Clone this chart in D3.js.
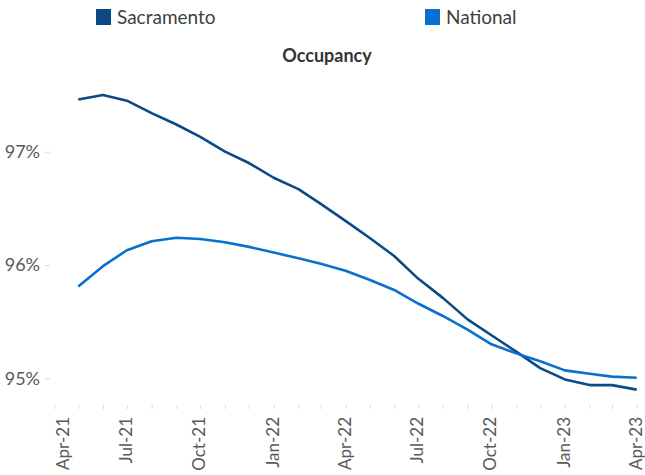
<!DOCTYPE html>
<html>
<head>
<meta charset="utf-8">
<script src="https://cdn.jsdelivr.net/npm/d3@7"></script>
<style>
  html, body { margin: 0; padding: 0; background: #fff; }
  svg { display: block; font-family: Lato, "Noto Sans", sans-serif; }
</style>
</head>
<body>
<svg id="chart"></svg>
<script>
// Monthly occupancy, May-21 .. Apr-23
const months = ['2021-05','2021-06','2021-07','2021-08','2021-09','2021-10','2021-11','2021-12',
  '2022-01','2022-02','2022-03','2022-04','2022-05','2022-06','2022-07','2022-08','2022-09','2022-10',
  '2022-11','2022-12','2023-01','2023-02','2023-03','2023-04'];
const sacramento = [97.46,97.50,97.45,97.34,97.24,97.13,97.00,96.90,96.77,96.67,96.54,96.39,
  96.24,96.08,95.88,95.71,95.52,95.38,95.235,95.09,94.99,94.94,94.94,94.90];
const national = [95.81,95.99,96.13,96.21,96.24,96.23,96.20,96.16,96.11,96.06,96.01,95.95,
  95.87,95.78,95.66,95.55,95.43,95.30,95.22,95.15,95.07,95.04,95.015,95.005];
const yTicks = [95, 96, 97];
const tickLabels = ['2021-04','2021-07','2021-10','2022-01','2022-04','2022-07','2022-10','2023-01','2023-04'];

const W = 645, H = 475;
const parse = d3.timeParse('%Y-%m');
const fmt = d3.timeFormat('%b-%y');

const svg = d3.select('#chart').attr('width', W).attr('height', H);

const x = d3.scaleTime()
  .domain([parse('2021-04'), parse('2023-04')])
  .range([54.3, 636.7]);
const y = d3.scaleLinear()
  .domain([94.76, 97.6])
  .range([405.5, 83.7]);

const series = [
  {name: 'Sacramento', color: '#0b4a86', values: sacramento},
  {name: 'National', color: '#0a70cf', values: national}
];

// ---- legend + title ----
const legendX = [96, 425];
const lg = svg.append('g').selectAll('g')
  .data(series).join('g')
  .attr('transform', (d, i) => `translate(${legendX[i]},9)`);
lg.append('rect').attr('width', 15).attr('height', 16).attr('fill', d => d.color);
lg.append('text').attr('x', 21).attr('y', 15)
  .attr('font-size', 19).attr('fill', '#404040').text(d => d.name);

svg.append('text')
  .attr('x', 327).attr('y', 62)
  .attr('text-anchor', 'middle')
  .attr('font-size', 18).attr('font-weight', 'bold').attr('fill', '#333')
  .text('Occupancy');

// ---- y axis ----
const yAxis = svg.append('g')
  .attr('transform', 'translate(50,0)')
  .call(d3.axisLeft(y).tickValues(yTicks).tickSize(5).tickPadding(5).tickFormat(d => d + '%'));
yAxis.select('.domain').remove();
yAxis.selectAll('line').attr('stroke', '#d9d9d9');
yAxis.selectAll('text').attr('font-size', 18).attr('fill', '#595959')
  .attr('font-family', 'Lato, sans-serif');

// ---- x axis: tick every month, label every quarter ----
const xAxis = svg.append('g')
  .attr('transform', 'translate(0,405)')
  .call(d3.axisBottom(x).ticks(d3.timeMonth.every(1)).tickSize(4).tickFormat(''));
xAxis.select('.domain').remove();
xAxis.selectAll('line').attr('stroke', '#d9d9d9');

svg.append('g').selectAll('text')
  .data(tickLabels.map(parse)).join('text')
  // first label sits a bit right of its tick in the original
  .attr('transform', (d, i) => `translate(${x(d) + (i === 0 ? 10 : 0) + 5},417) rotate(-90)`)
  .attr('text-anchor', 'end')
  .attr('font-size', 17).attr('fill', '#595959')
  .text(d => fmt(d));

// ---- lines ----
const line = d3.line()
  .x((d, i) => x(parse(months[i])))
  .y(d => y(d));

svg.append('g').selectAll('path')
  .data(series).join('path')
  .attr('fill', 'none')
  .attr('stroke', d => d.color)
  .attr('stroke-width', 2.6)
  .attr('stroke-linejoin', 'round')
  .attr('d', d => line(d.values));
</script>
</body>
</html>
